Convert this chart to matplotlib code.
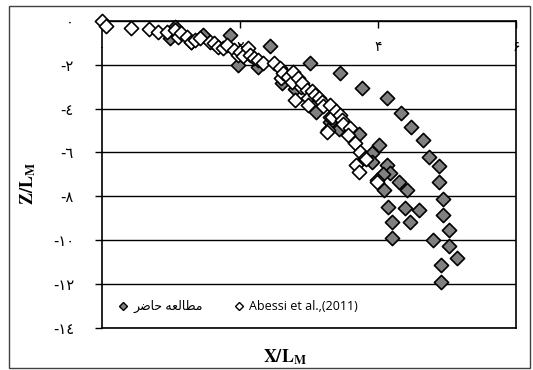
import matplotlib
matplotlib.use('Agg')
import matplotlib.pyplot as plt
from matplotlib.lines import Line2D
from matplotlib.patches import Rectangle

plt.rcParams['mathtext.fontset'] = 'stix'

# present study (grey diamonds)
present_x = [0.99, 1.06, 1.30, 1.47, 1.86, 1.98, 2.26, 2.44,
             2.61, 2.80, 3.11, 3.30, 3.43, 3.72, 4.02, 3.91, 3.91, 4.13, 4.17, 4.08,
             4.30, 4.42, 4.09, 4.15, 4.39, 4.59, 4.20, 4.46, 4.20,
             3.02, 3.45, 3.77, 4.13, 4.33, 4.48, 4.65, 4.74, 4.89, 4.89,
             4.95, 4.95, 5.03, 4.80, 5.03, 5.15, 4.91, 4.91]
present_z = [-0.79, -0.26, -0.94, -0.64, -0.64, -2.01, -2.10, -1.14,
             -2.82, -3.12, -4.14, -4.60, -4.95, -5.15, -5.66, -6.02, -6.42, -6.58, -6.93, -6.99,
             -7.37, -7.72, -7.72, -8.51, -8.55, -8.63, -9.16, -9.16, -9.92,
             -1.90, -2.39, -3.04, -3.53, -4.21, -4.85, -5.43, -6.19, -6.62, -7.34,
             -8.14, -8.86, -9.54, -10.00, -10.27, -10.84, -11.14, -11.90]

# Abessi et al. (2011) (open diamonds)
abessi_x = [0.00, 0.06, 0.42, 0.68, 0.82, 0.94, 1.06, 1.11, 1.15, 1.23, 1.30, 1.35,
            1.42, 1.57, 1.62, 1.69, 1.75, 1.81, 1.91, 1.98, 2.00, 2.05, 2.12, 2.15,
            2.20, 2.27, 2.34, 2.49, 2.58, 2.60, 2.63, 2.70, 2.75, 2.77, 2.80, 2.85,
            2.88, 2.90, 2.97, 2.99, 2.99, 3.05, 3.09, 3.15, 3.19, 3.20, 3.31, 3.31,
            3.33, 3.40, 3.45, 3.48, 3.50, 3.28, 3.26, 3.60, 3.57, 3.67, 3.74, 3.81,
            3.83, 3.69, 3.72, 3.98, 3.98]
abessi_z = [0.00, -0.23, -0.33, -0.38, -0.49, -0.49, -0.41, -0.72, -0.55, -0.72, -0.94, -0.85,
            -0.79, -0.94, -1.00, -1.17, -1.25, -1.10, -1.32, -1.55, -1.40, -1.60, -1.25, -1.55,
            -1.70, -1.78, -1.93, -1.93, -2.16, -2.60, -2.39, -2.54, -2.80, -2.31, -3.61, -2.62,
            -3.00, -2.85, -3.15, -3.53, -3.84, -3.20, -3.38, -3.50, -3.68, -3.90, -3.84, -4.37,
            -4.37, -4.10, -4.30, -4.52, -4.70, -4.98, -5.05, -4.90, -5.21, -5.59, -5.97, -6.27,
            -6.32, -6.58, -6.88, -7.26, -7.34]

x_ticks = [0, 2, 4, 6]
x_labels = ['۰', '۲', '۴', '۶']
y_ticks = [0, -2, -4, -6, -8, -10, -12, -14]
y_labels = ['٠', '-٢', '-٤', '-٦', '-٨', '-١٠', '-١٢', '-١٤']

# "مطالعه حاضر" in shaped glyphs, visual order
label_present = '\ufeae\ufebf\ufe8e\ufea3 \ufeea\ufecc\ufedf\ufe8e\ufec4\ufee3'
label_abessi = 'Abessi et al.,(2011)'

fig = plt.figure(figsize=(5.33, 3.70), dpi=100)
ax = fig.add_axes([0.1908, 0.1146, 0.7773, 0.8286])

ax.scatter(present_x, present_z, marker='D', s=52, facecolor='#808080',
           edgecolor='black', linewidths=1.2, zorder=3, clip_on=False)
ax.scatter(abessi_x, abessi_z, marker='D', s=52, facecolor='white',
           edgecolor='black', linewidths=1.2, zorder=4, clip_on=False)

ax.set_xlim(0, 6)
ax.set_ylim(-14, 0)
ax.set_axisbelow(True)
ax.grid(axis='y', color='black', linewidth=1.0)

ax.set_xticks(x_ticks)
ax.set_xticklabels(x_labels, family=['DejaVu Sans'], fontsize=10)
ax.xaxis.set_ticks_position('top')
ax.tick_params(axis='x', direction='in', length=5, width=1.0, pad=-24)

ax.set_yticks(y_ticks)
ax.set_yticklabels(y_labels, family=['DejaVu Sans'], fontsize=10.5)
ax.tick_params(axis='y', direction='out', length=5, width=1.0, pad=15)

for sp in ax.spines.values():
    sp.set_linewidth(1.2)
    sp.set_color('black')

fig.text(0.535, 0.035, r'$\mathbf{X/L_M}$', ha='center', va='center', fontsize=13)
fig.text(0.053, 0.505, r'$\mathbf{Z/L_M}$', ha='center', va='center',
         fontsize=13, rotation=90)

handles = [
    Line2D([], [], marker='D', linestyle='none', markersize=4.5,
           markerfacecolor='#808080', markeredgecolor='black', markeredgewidth=1.0),
    Line2D([], [], marker='D', linestyle='none', markersize=4.5,
           markerfacecolor='white', markeredgecolor='black', markeredgewidth=1.0),
]
ax.legend(handles, [label_present, label_abessi], loc='lower left',
          bbox_to_anchor=(0.01, 0.01), ncol=2, frameon=False,
          handletextpad=0.3, columnspacing=2.4, handlelength=1.0,
          prop={'family': ['Open Sans', 'DejaVu Sans'], 'size': 9})

fig.patches.append(Rectangle((9 / 533, 2 / 370), 521 / 533, 362 / 370,
                             transform=fig.transFigure, fill=False,
                             edgecolor='#404040', linewidth=1.0))

fig.savefig('out.png', dpi=100)
